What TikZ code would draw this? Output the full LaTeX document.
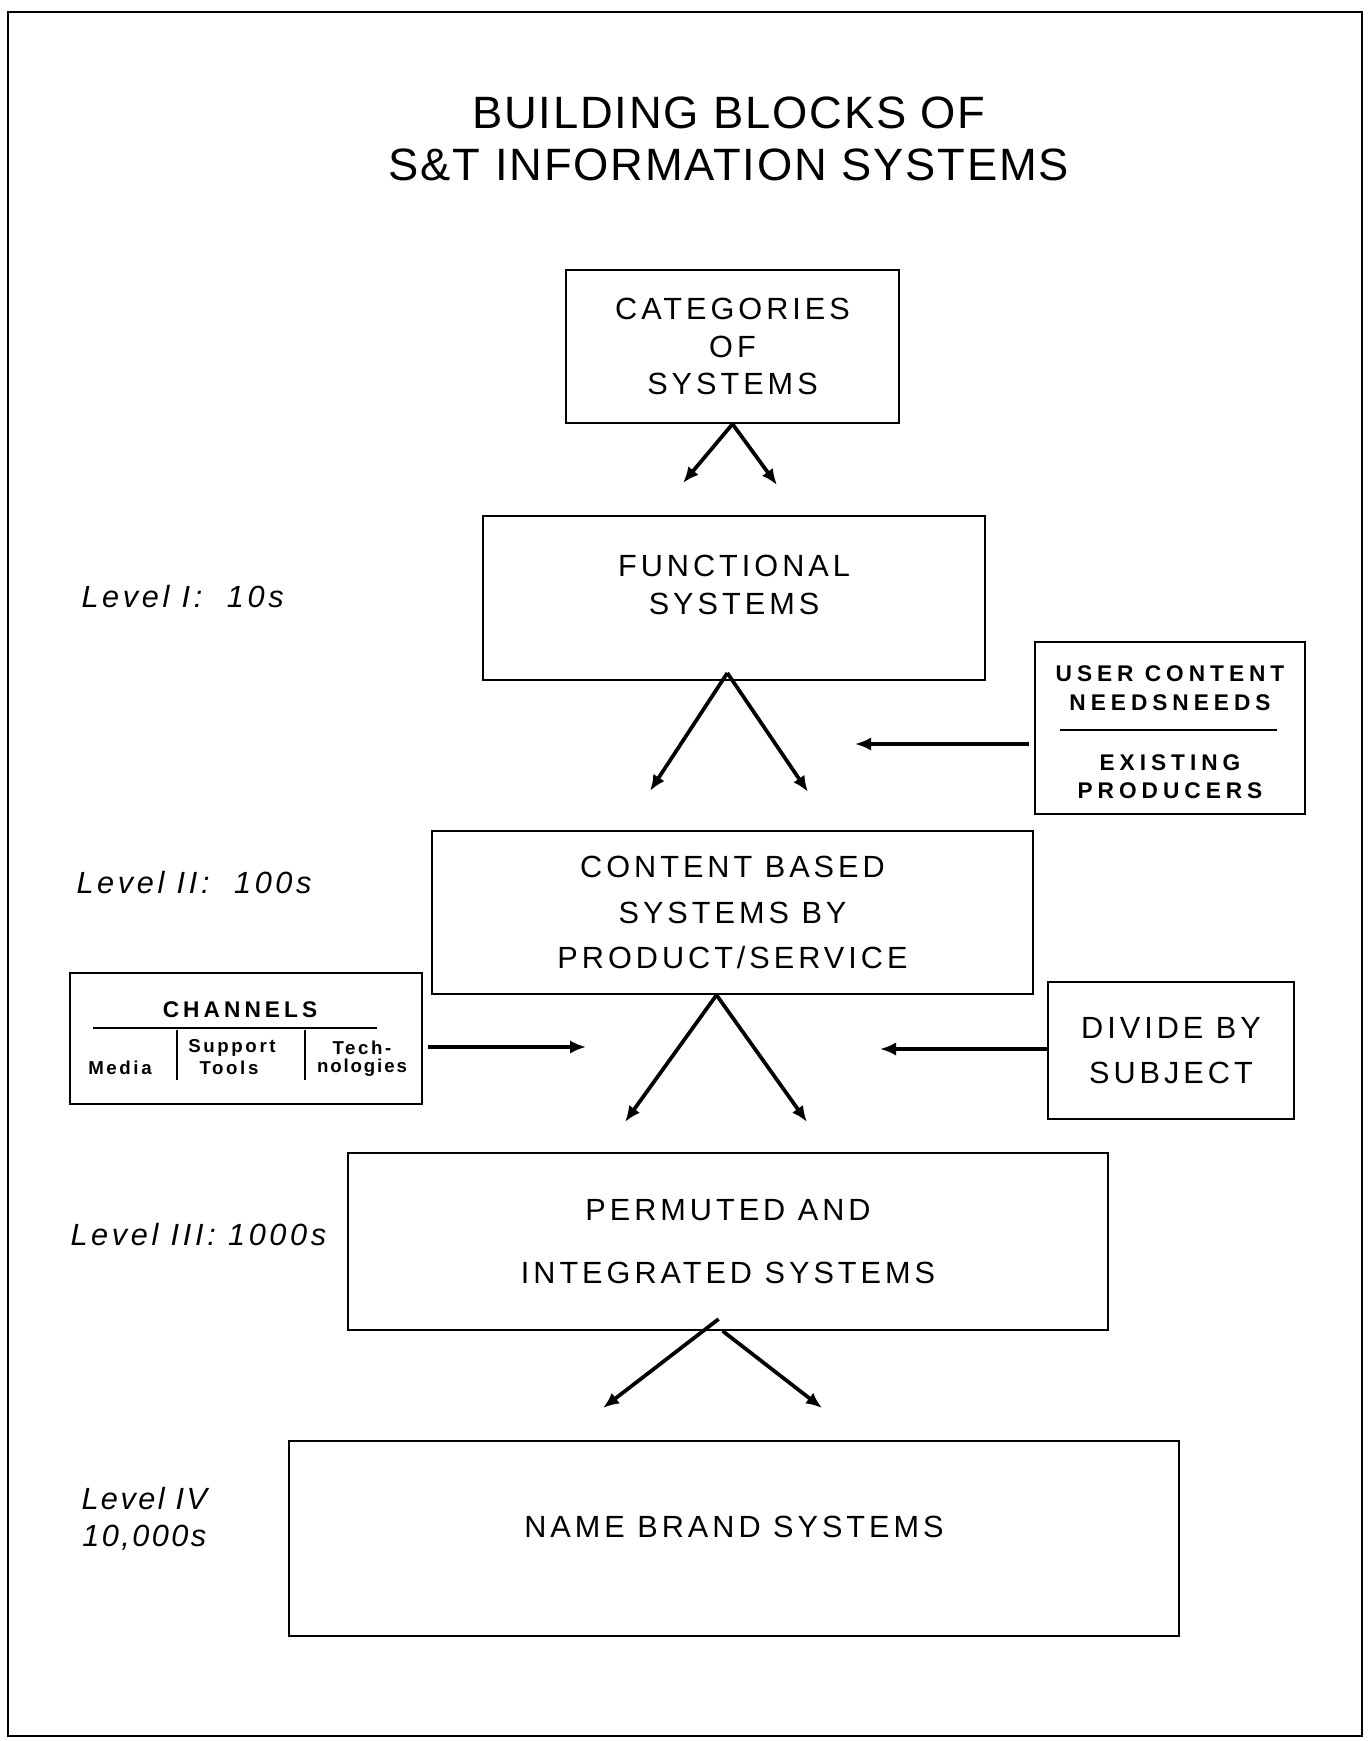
\documentclass[tikz,border=0pt]{standalone}
\usepackage{fontspec}
\setmainfont{Liberation Sans}
\usetikzlibrary{arrows.meta}

\tikzset{every picture/.style={line width=0.75pt}}
\tikzset{
  blk/.style={draw, line width=1.5pt, align=center, inner sep=0pt,
    font=\fontsize{23}{28}\selectfont\addfontfeatures{LetterSpace=13}},
  lvl/.style={anchor=west, inner sep=0pt,
    font=\fontsize{23}{28}\selectfont\itshape\addfontfeatures{LetterSpace=12}},
  small/.style={inner sep=0pt,
    font=\fontsize{14}{16}\selectfont\bfseries\addfontfeatures{LetterSpace=14}},
  usrtxt/.style={inner sep=0pt,
    font=\fontsize{17}{20}\selectfont\bfseries\addfontfeatures{LetterSpace=22}},
  arr/.style={-{Latex[length=12pt,width=10pt]}, line width=2.8pt}
}

\begin{document}
\begin{tikzpicture}[x=0.75pt,y=0.75pt,yscale=-1,xscale=1]
	\useasboundingbox (0,0) rectangle (1368,1741);

	%Shape: Rectangle [frame]
	\draw [line width=2pt] (8,12) rectangle (1362,1736);

	% Text Node [title]
	\node (title) [align=center, inner sep=0pt, font=\fontsize{34}{39}\selectfont\addfontfeatures{LetterSpace=4}] at (729,139) {BUILDING BLOCKS OF\\S\&T INFORMATION SYSTEMS};

	%Shape: Rectangle [boxes]
	\node (cat) [blk, minimum width=249.75pt, minimum height=114.75pt] at (732.5,346.5) {CATEGORIES\\[0pt]OF\\[0pt]SYSTEMS};
	\node (func) [blk, minimum width=376.5pt, minimum height=123pt] at (734,598) {FUNCTIONAL\\[0pt]SYSTEMS\\[-8pt]};
	\node (cont) [blk, minimum width=450.75pt, minimum height=122.25pt] at (732.5,912.5) {CONTENT BASED\\[6pt]SYSTEMS BY\\[6pt]PRODUCT/SERVICE};
	\node (perm) [blk, minimum width=570pt, minimum height=132.75pt] at (728,1241.5) {PERMUTED AND\\[19pt]INTEGRATED SYSTEMS};
	\node (name) [blk, minimum width=667.5pt, minimum height=146.25pt] at (734,1538.5) {NAME BRAND SYSTEMS\\[-11pt]};
	\node (divide) [blk, minimum width=184.5pt, minimum height=102.75pt] at (1171,1050.5) {DIVIDE BY\\[6pt]SUBJECT};
	\node (user) [draw, line width=1.5pt, minimum width=202.5pt, minimum height=129pt] at (1170,728) {};
	\node (chan) [draw, line width=1.5pt, minimum width=264pt, minimum height=98.25pt] at (246,1038.5) {};

	% Text Node [user needs]
	\node (usr1) [usrtxt] at (1170,674) {USER CONTENT};
	\node (usr2) [usrtxt] at (1170,703) {NEEDSNEEDS};
	\node (usr3) [usrtxt] at (1170,763) {EXISTING};
	\node (usr4) [usrtxt] at (1170,791) {PRODUCERS};
	\draw [line width=2.2pt] (1060,730) -- (1277,730);

	% Text Node [channels]
	\node (ch) [usrtxt, font=\fontsize{17}{20}\selectfont\bfseries\addfontfeatures{LetterSpace=18}] at (240,1010) {CHANNELS};
	\draw [line width=2.2pt] (93,1028) -- (377,1028);
	\draw [line width=1pt] (177,1030) -- (177,1080);
	\draw [line width=1pt] (305,1030) -- (305,1080);
	\node (media) [small] at (120,1068) {Media};
	\node (supp) [small] at (232,1048) {Support};
	\node (tools) [small] at (229,1068) {Tools};
	\node (tech) [small] at (362,1048) {Tech-};
	\node (nolog) [small, font=\fontsize{14}{16}\selectfont\bfseries\addfontfeatures{LetterSpace=10}] at (362,1068) {nologies};

	% Text Node [levels]
	\node (lv1) [lvl] at (81,597) {Level I:\ \ 10s};
	\node (lv2) [lvl] at (76,883) {Level II:\ \ 100s};
	\node (lv3) [lvl] at (70,1235) {Level III: 1000s};
	\node (lv4) [lvl, align=center, font=\fontsize{23}{28}\selectfont\itshape\addfontfeatures{LetterSpace=8}] at (81,1519) {Level IV\\10,000s};

	%Straight Lines [arrows]
	\coordinate (catL) at (683,483);
	\coordinate (catR) at (777,485);
	\draw [arr] (cat.south) -- (catL);
	\draw [arr] (cat.south) -- (catR);
	\coordinate (funcL) at (650,791);
	\coordinate (funcR) at (808,792);
	\draw [arr] ([xshift=-5pt,yshift=-6pt]func.south) -- (funcL);
	\draw [arr] ([xshift=-5pt,yshift=-6pt]func.south) -- (funcR);
	\coordinate (contL) at (625,1122);
	\coordinate (contR) at (807,1122);
	\draw [arr] ([xshift=-12pt]cont.south) -- (contL);
	\draw [arr] ([xshift=-12pt]cont.south) -- (contR);
	\coordinate (permL) at (603,1408);
	\coordinate (permR) at (822,1408);
	\draw [arr] ([xshift=-7pt,yshift=-9pt]perm.south) -- (permL);
	\draw [arr] ([xshift=-4pt]perm.south) -- (permR);

	\coordinate (usrTip) at (855,744);
	\draw [arr] ([xshift=-4pt]user.west |- usrTip) -- (usrTip);
	\coordinate (chTip) at (586,1047);
	\draw [arr] ([xshift=4pt]chan.east |- chTip) -- (chTip);
	\coordinate (dvTip) at (880,1049);
	\draw [arr] (divide.west |- dvTip) -- (dvTip);

\end{tikzpicture}
\end{document}
